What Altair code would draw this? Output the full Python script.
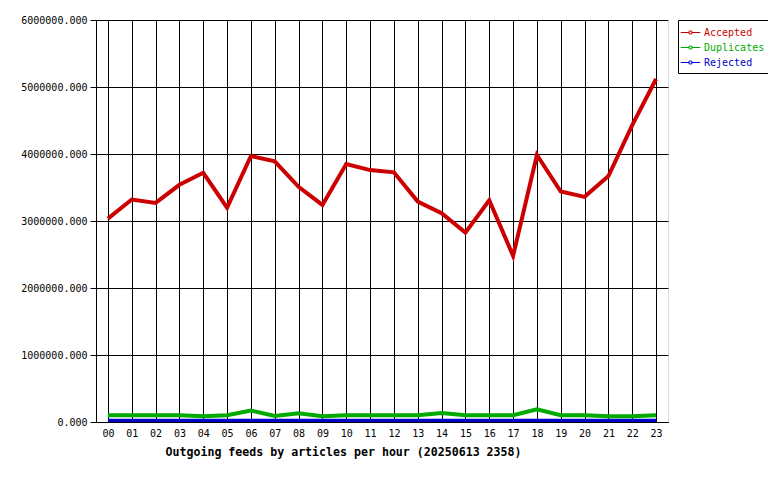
import altair as alt
import pandas as pd

hours = [f"{h:02d}" for h in range(24)]
accepted = [3035000, 3320000, 3270000, 3540000, 3720000, 3200000, 3970000, 3890000,
            3510000, 3240000, 3850000, 3760000, 3726000, 3290000, 3115000, 2826000,
            3310000, 2480000, 3985000, 3440000, 3360000, 3670000, 4430000, 5120000]
duplicates = [100000, 100000, 100000, 100000, 85000, 100000, 170000, 90000,
              130000, 85000, 100000, 100000, 100000, 100000, 134000, 100000,
              100000, 100000, 190000, 100000, 100000, 85000, 85000, 100000]
rejected = [20000] * 24
series = ["Accepted", "Duplicates", "Rejected"]
colors = ["#cc0000", "#00aa00", "#0000cc"]
y_ticks = [0, 1000000, 2000000, 3000000, 4000000, 5000000, 6000000]

rows = []
for name, vals in zip(series, [accepted, duplicates, rejected]):
    for h, v in zip(hours, vals):
        rows.append({"hour": h, "value": v, "series": name})
df = pd.DataFrame(rows)

FONT = "DejaVu Sans Mono"

label_color_expr = (
    "datum.label == 'Accepted' ? '#cc0000' : "
    "datum.label == 'Duplicates' ? '#00aa00' : '#0000cc'"
)

chart = alt.Chart(df).mark_line(strokeWidth=4, clip=True).encode(
    x=alt.X("hour:O", sort=hours, scale=alt.Scale(type="point", padding=0.5),
            axis=alt.Axis(title="Outgoing feeds by articles per hour (20250613 2358)",
                          labelAngle=0, ticks=False, labelPadding=6,
                          labelFont=FONT, labelFontSize=10, labelColor="black",
                          titleFont=FONT, titleFontSize=11.6, titleFontWeight="bold",
                          titleColor="black", titleX=247, titleY=33,
                          titleAlign="center", titleBaseline="alphabetic",
                          grid=True, gridColor="black", gridWidth=1, gridOpacity=1,
                          domainColor="black")),
    y=alt.Y("value:Q", scale=alt.Scale(domain=[0, 6000000], nice=False),
            axis=alt.Axis(title=None, values=y_ticks, format=".3f",
                          labelFont=FONT, labelFontSize=10, labelColor="black",
                          tickColor="black", tickSize=6, labelPadding=3,
                          grid=True, gridColor="black", gridWidth=1, gridOpacity=1,
                          domainColor="black")),
    color=alt.Color("series:N", sort=series,
                    scale=alt.Scale(domain=series, range=colors),
                    legend=alt.Legend(title=None, orient="right", offset=10,
                                      labelFont=FONT, labelFontSize=10,
                                      labelColor=alt.ExprRef(label_color_expr),
                                      symbolType="M-1.4,0L-0.2,0M0.2,0L1.4,0M-0.2,-0.2H0.2V0.2H-0.2Z",
                                      symbolSize=196, symbolStrokeWidth=1,
                                      symbolFillColor="transparent",
                                      strokeColor="black", fillColor="white",
                                      padding=5, rowPadding=2, labelOffset=6)),
    order=alt.Order("series:N"),
).properties(
    width=572, height=402,
    padding={"left": 88, "top": 12, "right": 100, "bottom": 50},
    autosize=alt.AutoSizeParams(type="none"),
).configure_view(
    fill="#e0e0e0", stroke="black", strokeWidth=1
).configure(background="white")

chart.save("out.html", embed_options={"renderer": "svg", "actions": False})
